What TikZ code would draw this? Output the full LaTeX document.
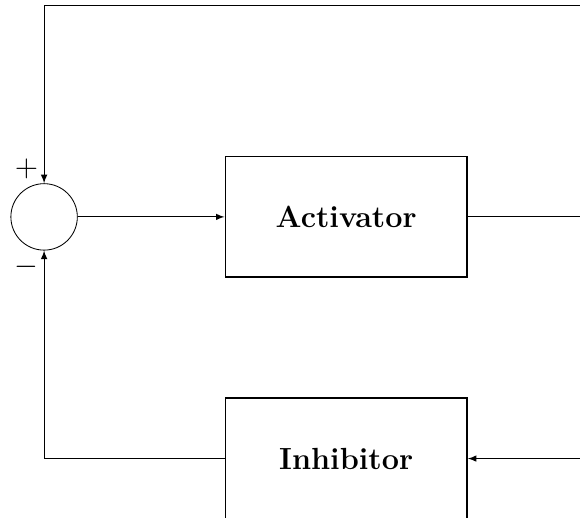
\documentclass[tikz,border=0pt]{standalone}
\usetikzlibrary{positioning}

\begin{document}
\begin{tikzpicture}[
    block/.style={rectangle,draw,thick,minimum width=4cm,minimum height=2cm,font=\Large\bfseries},
    sum/.style={circle,draw,inner sep=0pt,minimum size=11mm},
    sign/.style={font=\Large},
    >=latex
    ]

    \useasboundingbox (-0.73,-4.98) rectangle (8.87,3.59);

    % comparator and blocks:
    \node (sum) at (0,0) [sum] {};
    \node (act) at (5,0) [block] {Activator};
    \node (inh) at (5,-4) [block] {Inhibitor};

    % signs:
    \node (plus) at (-0.29,0.79) [sign] {$+$};
    \node (minus) at (-0.30,-0.83) [sign] {$-$};

    % feedback corners:
    \coordinate (out) at (9.5,0);
    \coordinate (fbr) at (9.5,3.5);
    \coordinate (fbl) at (0,3.5);

    \draw [->] (sum) -- (act);
    \draw (act) -- (out);
    \draw [->] (out) |- (inh);
    \draw [->] (out) -- (fbr) -- (fbl) -- (sum);
    \draw [->] (inh) -| (sum);

  \end{tikzpicture}
\end{document}
